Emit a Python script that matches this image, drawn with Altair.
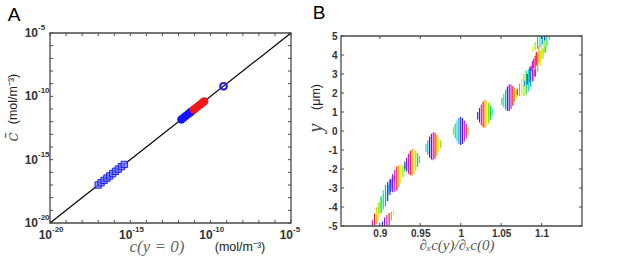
import altair as alt
import pandas as pd

# ---------------- Panel A data ----------------
A_DECADES = [1e-20, 1e-19, 1e-18, 1e-17, 1e-16, 1e-15, 1e-14, 1e-13,
             1e-12, 1e-11, 1e-10, 1e-9, 1e-8, 1e-7, 1e-6, 1e-5]
A_LABEL_VALUES = [1e-20, 1e-15, 1e-10, 1e-5]
A_LABEL_EXP = ["-20", "-15", "-10", "-5"]
LINE_X = [1e-20, 1e-5]
SQ_X = [1.0e-17, 1.5e-17, 2.3e-17, 3.5e-17, 5.2e-17, 8.0e-17, 1.2e-16, 1.8e-16, 2.8e-16, 4.2e-16]
BLUE_X = [1.5e-12, 2.1e-12, 2.9e-12, 4.0e-12, 5.5e-12, 7.0e-12]
RED_X = [9.0e-12, 1.2e-11, 1.7e-11, 2.3e-11, 3.1e-11, 4.0e-11]
OPEN_X = [6.3e-10]

# ---------------- Panel B data ----------------
B_XTICKS = [0.9, 0.95, 1.0, 1.05, 1.1]
B_YTICKS = [-5, -4, -3, -2, -1, 0, 1, 2, 3, 4, 5]
CL_X = [0.906, 0.899, 0.907, 0.921, 0.940, 0.966, 1.000, 1.030, 1.060, 1.081, 1.092, 1.100, 1.101]
CL_Y = [-5.0, -4.2, -3.4, -2.5, -1.65, -0.8, 0.0, 0.9, 1.75, 2.55, 3.4, 4.3, 5.0]
CL_XS = [0.011, 0.011, 0.011, 0.010, 0.009, 0.009, 0.009, 0.009, 0.009, 0.011, 0.013, 0.013, 0.012]
CL_SL = [0.7, 1.0, 0.9, 0.5, 0.15, 0.1, 0.0, 0.1, 0.2, 0.5, 0.9, 1.0, 0.7]
CL_HS = [0.6, 0.65, 0.75, 0.85, 0.95, 1.0, 1.0, 1.0, 0.95, 0.85, 0.75, 0.65, 0.6]
CL_SHIFT = [4, 8, 2, 6, 7, 5, 3, 7, 4, 0, 6, 8, 2]
SEG_F = [-1.0, -0.75, -0.5, -0.25, 0.0, 0.25, 0.5, 0.75, 1.0]
SEG_H = [0.2, 0.38, 0.55, 0.68, 0.74, 0.68, 0.55, 0.38, 0.2]
HSV = ["#ff1010", "#ff9000", "#e8e800", "#80f000", "#10e040", "#00e8d0",
       "#10a0ff", "#1828ff", "#6010d0", "#d010f0"]

WA, HA = 241, 190
WB, HB = 241, 193

FRAME = "#4a4a4a"
TICKFONT = "Liberation Sans"
LBL = dict(labelFont=TICKFONT, labelFontWeight="bold", labelFontSize=10,
           labelColor="#333333", ticks=False, tickSize=0, domain=False, grid=False,
           title=None, labelOverlap=False, labelFlush=False)

# ---------------- Panel A ----------------
xsA = alt.Scale(type="log", domain=[1e-20, 1e-5], nice=False)
ysA = alt.Scale(type="log", domain=[1e-20, 1e-5], nice=False)


def XA(f):
    return alt.X(f, scale=xsA, axis=None)


def YA(f):
    return alt.Y(f, scale=ysA, axis=None)


line_df = pd.DataFrame({"x": LINE_X, "y": LINE_X})
base_line = alt.Chart(line_df).mark_line(color="black", strokeWidth=1.2).encode(
    x=XA("x:Q"), y=YA("y:Q"))

sq = alt.Chart(pd.DataFrame({"x": SQ_X, "y": SQ_X})).mark_square(
    size=40, fill="#6f7cf5", fillOpacity=0.7, stroke="#1a1aff", strokeWidth=1
).encode(x=XA("x:Q"), y=YA("y:Q"))

bc = alt.Chart(pd.DataFrame({"x": BLUE_X, "y": BLUE_X})).mark_circle(
    size=70, color="#1414ff", opacity=1
).encode(x=XA("x:Q"), y=YA("y:Q"))

rc = alt.Chart(pd.DataFrame({"x": RED_X, "y": RED_X})).mark_circle(
    size=70, color="#f01818", opacity=1
).encode(x=XA("x:Q"), y=YA("y:Q"))

oc_red = alt.Chart(pd.DataFrame({"x": OPEN_X, "y": OPEN_X})).mark_point(
    shape="circle", filled=False, size=50, color="#e02050", strokeWidth=2, dx=-1
).encode(x=XA("x:Q"), y=YA("y:Q"))
oc = alt.Chart(pd.DataFrame({"x": OPEN_X, "y": OPEN_X})).mark_point(
    shape="circle", filled=False, size=40, color="#2020e0", strokeWidth=1.8, opacity=1
).encode(x=XA("x:Q"), y=YA("y:Q"))

decA = pd.DataFrame({"v": A_DECADES})
tA_b = alt.Chart(decA).mark_rule(color=FRAME, strokeWidth=1).encode(
    x=XA("v:Q"), y=alt.value(HA), y2=alt.value(HA - 3))
tA_t = alt.Chart(decA).mark_rule(color=FRAME, strokeWidth=1).encode(
    x=XA("v:Q"), y=alt.value(0), y2=alt.value(3))
tA_l = alt.Chart(decA).mark_rule(color=FRAME, strokeWidth=1).encode(
    y=YA("v:Q"), x=alt.value(0), x2=alt.value(3))
tA_r = alt.Chart(decA).mark_rule(color=FRAME, strokeWidth=1).encode(
    y=YA("v:Q"), x=alt.value(WA), x2=alt.value(WA - 3))

frameA = alt.Chart(pd.DataFrame({"x1": [1e-20], "x2": [1e-5], "y1": [1e-20], "y2": [1e-5]})).mark_rect(
    filled=False, color=FRAME, strokeWidth=1.3
).encode(x=XA("x1:Q"), x2="x2:Q", y=YA("y1:Q"), y2="y2:Q")

# tick labels of A: "10" with a raised exponent
labA = pd.DataFrame({"v": A_LABEL_VALUES, "e": A_LABEL_EXP})
lx_base = alt.Chart(labA).mark_text(text="10", align="right", baseline="top", dx=2,
                                    font=TICKFONT, fontWeight="bold", fontSize=12, color="#333333"
                                    ).encode(x=XA("v:Q"), y=alt.value(HA + 7))
lx_exp = alt.Chart(labA).mark_text(align="left", baseline="top", dx=2,
                                   font=TICKFONT, fontWeight="bold", fontSize=8, color="#333333"
                                   ).encode(x=XA("v:Q"), y=alt.value(HA + 3), text="e:N")
ly_base = alt.Chart(labA).mark_text(text="10", align="right", baseline="middle",
                                    font=TICKFONT, fontWeight="bold", fontSize=12, color="#333333"
                                    ).encode(y=YA("v:Q"), x=alt.value(-12))
ly_exp = alt.Chart(labA).mark_text(align="left", baseline="middle", dy=-5,
                                   font=TICKFONT, fontWeight="bold", fontSize=8, color="#333333"
                                   ).encode(y=YA("v:Q"), x=alt.value(-12), text="e:N")

one = pd.DataFrame({"a": [0]})


def txt(s, x, y, **kw):
    return alt.Chart(one).mark_text(text=s, align="center", baseline="middle", **kw).encode(
        x=alt.value(x), y=alt.value(y))


anchorA = alt.Chart(one).mark_rule(strokeWidth=0.5, opacity=0).encode(
    x=alt.value(-50), x2=alt.value(-49.5), y=alt.value(-33), y2=alt.value(-33))

textsA = [
    txt("A", -36, -18, font="Liberation Sans", fontSize=19, color="black"),
    txt("c(y = 0)", 107, 214, font="Liberation Serif", fontStyle="italic", fontSize=17, color="#666666"),
    txt("(mol/m⁻³)", 190, 214, font="Liberation Sans", fontSize=12.5, color="#222222"),
    txt("(mol/m⁻³)", -37, 66, font="Liberation Sans", fontSize=12.5, color="#222222", angle=270),
    txt("c̄", -37, 104, font="DejaVu Serif", fontStyle="italic", fontSize=17, color="#666666", angle=270),
]

panelA = alt.layer(base_line, sq, bc, rc, oc_red, oc, tA_b, tA_t, tA_l, tA_r, frameA,
                   lx_base, lx_exp, ly_base, ly_exp,
                   *textsA, anchorA).properties(width=WA, height=HA)

# ---------------- Panel B ----------------
rows = []
for i in range(len(CL_X)):
    for j, (f, h) in enumerate(zip(SEG_F, SEG_H)):
        yc = CL_Y[i] + f * CL_SL[i]
        hh = h * CL_HS[i]
        rows.append({"x": CL_X[i] + f * CL_XS[i], "y1": yc - hh, "y2": yc + hh,
                     "c": HSV[(j + CL_SHIFT[i]) % len(HSV)]})
seg_df = pd.DataFrame(rows)

xsB = alt.Scale(domain=[0.852, 1.15], nice=False, zero=False)
ysB = alt.Scale(domain=[-5, 5], range=[HB, 3], nice=False, zero=False, clamp=True)

axBx = alt.Axis(values=B_XTICKS, format=".2~f", labelPadding=2, **LBL)
axBy = alt.Axis(values=B_YTICKS, labelExpr="'' + datum.value", labelPadding=4, **LBL)


def XB(f):
    return alt.X(f, scale=xsB, axis=axBx)


def YB(f):
    return alt.Y(f, scale=ysB, axis=axBy)


segs = alt.Chart(seg_df).mark_rule(strokeWidth=1.15).encode(
    x=XB("x:Q"), y=YB("y1:Q"), y2="y2:Q",
    color=alt.Color("c:N", scale=None),
)

bx = pd.DataFrame({"v": B_XTICKS})
by = pd.DataFrame({"v": B_YTICKS})
tB_b = alt.Chart(bx).mark_rule(color=FRAME, strokeWidth=1).encode(
    x=XB("v:Q"), y=alt.value(HB), y2=alt.value(HB - 3))
tB_t = alt.Chart(bx).mark_rule(color=FRAME, strokeWidth=1).encode(
    x=XB("v:Q"), y=alt.value(3), y2=alt.value(6))
tB_l = alt.Chart(by).mark_rule(color=FRAME, strokeWidth=1).encode(
    y=YB("v:Q"), x=alt.value(0), x2=alt.value(3))
tB_r = alt.Chart(by).mark_rule(color=FRAME, strokeWidth=1).encode(
    y=YB("v:Q"), x=alt.value(WB), x2=alt.value(WB - 3))

frameB = alt.Chart(pd.DataFrame({"x1": [0.852], "x2": [1.15], "y1": [-5], "y2": [5]})).mark_rect(
    filled=False, color=FRAME, strokeWidth=1.3
).encode(x=XB("x1:Q"), x2="x2:Q", y=YB("y1:Q"), y2="y2:Q")

anchorB = alt.Chart(one).mark_rule(strokeWidth=0.5, opacity=0).encode(
    x=alt.value(275.5), x2=alt.value(275.5), y=alt.value(227.5), y2=alt.value(227))

textsB = [
    txt("B", -22, -20, font="Liberation Sans", fontSize=19, color="black"),
    txt("∂ₓc(y)/∂ₓc(0)", 116, 212, font="Liberation Serif", fontStyle="italic", fontSize=15, color="#555555"),
    txt("y", -25, 95, font="Liberation Serif", fontStyle="italic", fontSize=20, color="#444444", angle=270),
    txt("(μm)", -25, 64, font="Liberation Sans", fontSize=12.5, color="#222222", angle=270),
]

panelB = alt.layer(segs, tB_b, tB_t, tB_l, tB_r, frameB, *textsB, anchorB).properties(width=WB, height=HB)

chart = alt.hconcat(panelA, panelB, spacing=50, bounds="flush").properties(
    padding=0, background="white"
).configure_view(stroke=None)

chart.save("out.html", embed_options={"renderer": "svg", "actions": False})
